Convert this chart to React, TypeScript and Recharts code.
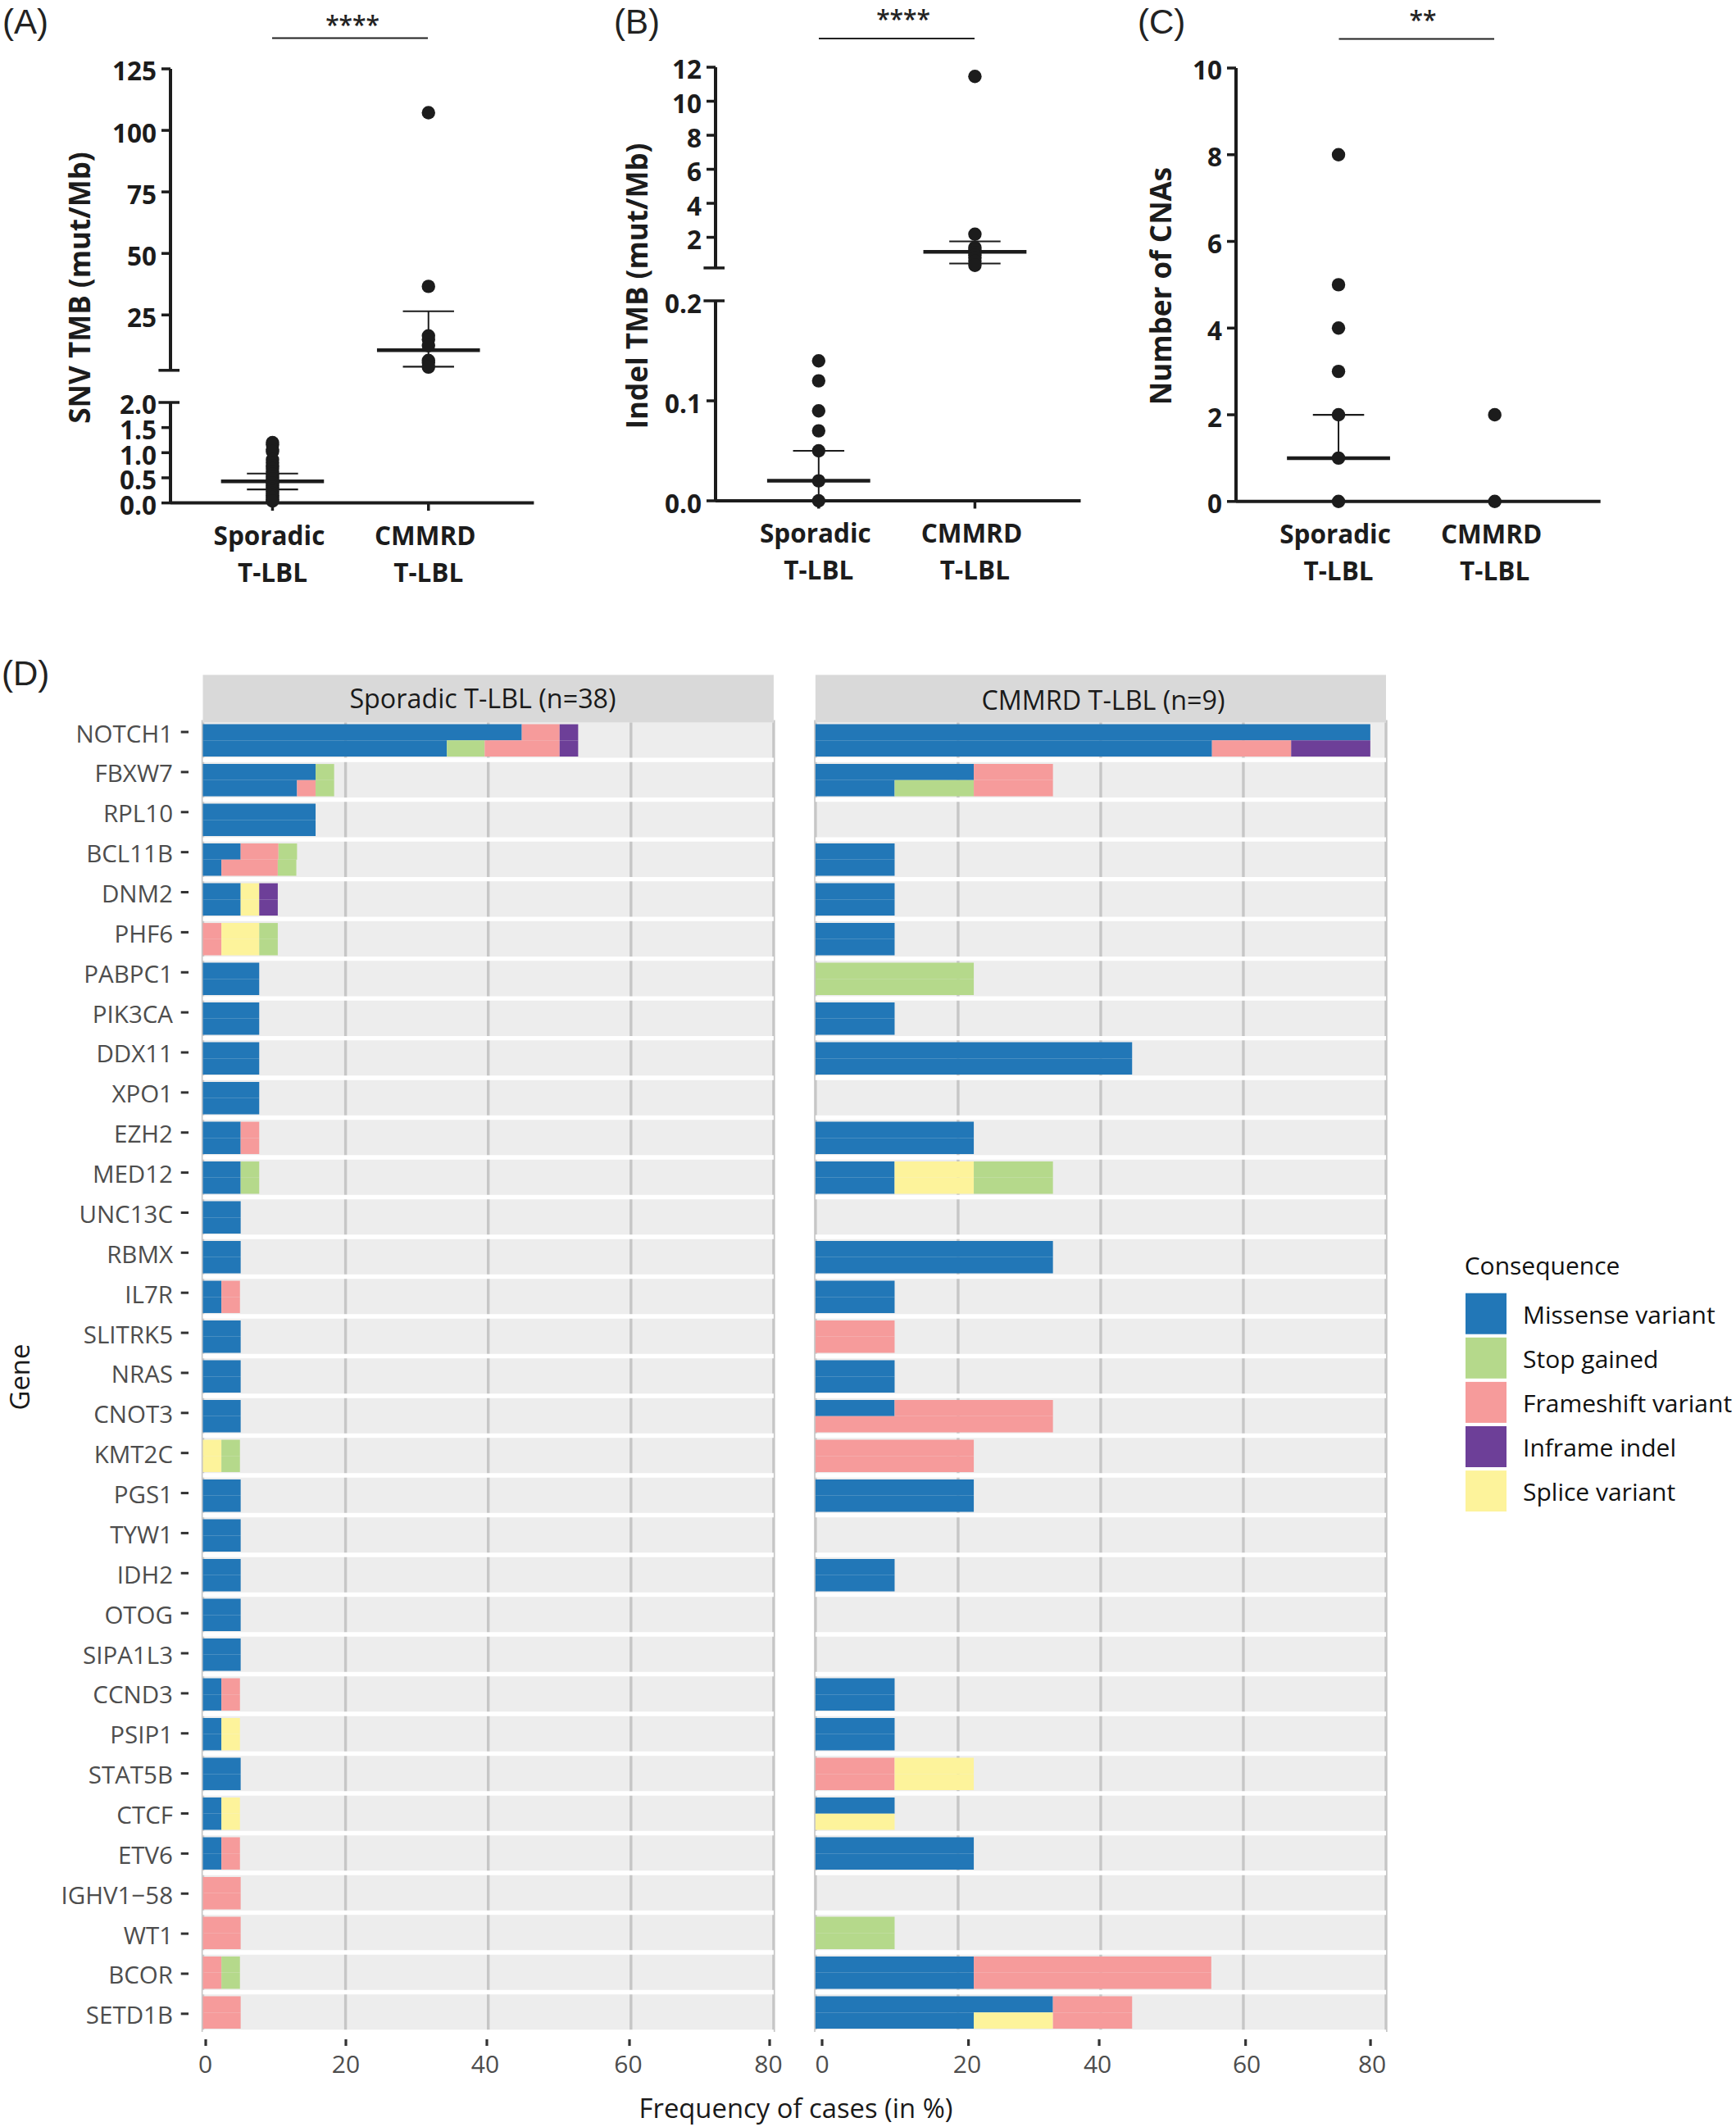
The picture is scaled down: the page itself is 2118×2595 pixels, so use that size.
import React from 'react'
import { Bar, BarChart, CartesianGrid, Cell, ReferenceLine, Scatter, ScatterChart, XAxis, YAxis } from 'recharts'

const FONT = '"Open Sans", sans-serif'
const DARK = '#1c1c1c'

// panels A-C, values
const groupLabels = [['Sporadic', 'T-LBL'], ['CMMRD', 'T-LBL']]

const snvSporadic = [1.2, 1.16, 1.06, 1.02, 0.86, 0.8, 0.74, 0.68, 0.62, 0.57, 0.52, 0.47, 0.43, 0.39, 0.35, 0.31, 0.27, 0.23, 0.19, 0.15, 0.11, 0.07, 0.04]
const snvCmmrd = [107.2, 36.6, 16.5, 15, 12.5, 6.5, 5.5, 3.8]
const snvSporadicIqr = [0.43, 0.27, 0.585]
const snvCmmrdIqr = [10.7, 4, 26.5]

const indelSporadic = [0.14, 0.12, 0.09, 0.07, 0.05, 0.02, 0]
const indelCmmrd = [11.46, 2.18, 1.4, 1.25, 1.1, 0.95, 0.8, 0.6, 0.35]
const indelSporadicIqr = [0.02, 0, 0.05]
const indelCmmrdIqr = [1.15, 0.46, 1.76]

const cnaSporadic = [8, 5, 4, 3, 2, 1, 0]
const cnaCmmrd = [2, 0]
const cnaSporadicIqr = [1, 1, 2]

// panel D
const genes = ['NOTCH1', 'FBXW7', 'RPL10', 'BCL11B', 'DNM2', 'PHF6', 'PABPC1', 'PIK3CA', 'DDX11', 'XPO1', 'EZH2', 'MED12', 'UNC13C', 'RBMX', 'IL7R', 'SLITRK5', 'NRAS', 'CNOT3', 'KMT2C', 'PGS1', 'TYW1', 'IDH2', 'OTOG', 'SIPA1L3', 'CCND3', 'PSIP1', 'STAT5B', 'CTCF', 'ETV6', 'IGHV1−58', 'WT1', 'BCOR', 'SETD1B']
const frequencyTicks = [0, 20, 40, 60, 80]

const consequences = ['Missense variant', 'Stop gained', 'Frameshift variant', 'Inframe indel', 'Splice variant']
const consequenceColors: any = { M: '#2277b7', S: '#b5d98b', F: '#f69b9b', I: '#6d3f98', P: '#fdf39b' }
const consequenceKeys = ['M', 'S', 'F', 'I', 'P']

type Seg = [string, number]

const sporadicUpper: Seg[][] = [
  [['M', 44.7], ['F', 5.3], ['I', 2.6]],
  [['M', 15.8], ['S', 2.6]],
  [['M', 15.8]],
  [['M', 5.3], ['F', 5.3], ['S', 2.6]],
  [['M', 5.3], ['P', 2.6], ['I', 2.6]],
  [['F', 2.6], ['P', 5.3], ['S', 2.6]],
  [['M', 7.9]],
  [['M', 7.9]],
  [['M', 7.9]],
  [['M', 7.9]],
  [['M', 5.3], ['F', 2.6]],
  [['M', 5.3], ['S', 2.6]],
  [['M', 5.3]],
  [['M', 5.3]],
  [['M', 2.6], ['F', 2.6]],
  [['M', 5.3]],
  [['M', 5.3]],
  [['M', 5.3]],
  [['P', 2.6], ['S', 2.6]],
  [['M', 5.3]],
  [['M', 5.3]],
  [['M', 5.3]],
  [['M', 5.3]],
  [['M', 5.3]],
  [['M', 2.6], ['F', 2.6]],
  [['M', 2.6], ['P', 2.6]],
  [['M', 5.3]],
  [['M', 2.6], ['P', 2.6]],
  [['M', 2.6], ['F', 2.6]],
  [['F', 5.3]],
  [['F', 5.3]],
  [['F', 2.6], ['S', 2.6]],
  [['F', 5.3]],
]
const sporadicLower: Record<string, Seg[]> = {
  NOTCH1: [['M', 34.2], ['S', 5.3], ['F', 10.5], ['I', 2.6]],
  FBXW7: [['M', 13.2], ['F', 2.6], ['S', 2.6]],
  BCL11B: [['M', 2.6], ['F', 7.9], ['S', 2.6]],
}

const cmmrdUpper: Seg[][] = [
  [['M', 77.8]],
  [['M', 22.2], ['F', 11.1]],
  [],
  [['M', 11.1]],
  [['M', 11.1]],
  [['M', 11.1]],
  [['S', 22.2]],
  [['M', 11.1]],
  [['M', 44.4]],
  [],
  [['M', 22.2]],
  [['M', 11.1], ['P', 11.1], ['S', 11.1]],
  [],
  [['M', 33.3]],
  [['M', 11.1]],
  [['F', 11.1]],
  [['M', 11.1]],
  [['M', 11.1], ['F', 22.2]],
  [['F', 22.2]],
  [['M', 22.2]],
  [],
  [['M', 11.1]],
  [],
  [],
  [['M', 11.1]],
  [['M', 11.1]],
  [['F', 11.1], ['P', 11.1]],
  [['M', 11.1]],
  [['M', 22.2]],
  [],
  [['S', 11.1]],
  [['M', 22.2], ['F', 33.3]],
  [['M', 33.3], ['F', 11.1]],
]
const cmmrdLower: Record<string, Seg[]> = {
  NOTCH1: [['M', 55.6], ['F', 11.1], ['I', 11.1]],
  FBXW7: [['M', 11.1], ['S', 11.1], ['F', 11.1]],
  CNOT3: [['F', 33.3]],
  CTCF: [['P', 11.1]],
  SETD1B: [['M', 22.2], ['P', 11.1], ['F', 11.1]],
}

const buildRows = (upper: Seg[][], lower: Record<string, Seg[]>) =>
  genes.map((gene, i) => {
    const row: any = { gene }
    const up = upper[i]
    const low = lower[gene] ?? up
    for (let s = 0; s < 4; s++) {
      row['u' + s] = up[s] ? up[s][1] : 0
      row['uk' + s] = up[s] ? up[s][0] : 'M'
      row['l' + s] = low[s] ? low[s][1] : 0
      row['lk' + s] = low[s] ? low[s][0] : 'M'
    }
    return row
  })

const Dot = (p: any) => <circle cx={p.cx} cy={p.cy} r={8.2} fill={DARK} />

const YW = 120

// one stretch of a dot plot y axis; a broken axis is two of these stacked
const DotChart = ({ axisX, axisEnd, yTop, yBottom, domain, ticks, cap, fmt, xDomain, showX, stub, series, summaries }: any) => {
  const bottom = showX ? 120 : 30
  const yTick = ({ y, payload }: any) => {
    const isCap = payload.value === cap
    return (
      <g>
        <line x1={isCap ? YW - 14.6 : YW - 11} x2={isCap ? YW + 11 : YW} y1={y} y2={y} stroke={DARK} strokeWidth={3.5} />
        {isCap && !fmt(payload.value) ? null : (
          <text x={YW - 17} y={y + 2} textAnchor="end" dominantBaseline="central" fontFamily={FONT} fontWeight={700} fontSize={31.5} fill={DARK}>{fmt(payload.value)}</text>
        )}
      </g>
    )
  }
  const xTick = ({ x, y, index }: any) => (
    <g fontFamily={FONT} fontWeight={700} fontSize={31.5} fill={DARK} textAnchor="middle">
      <text x={x - 4} y={y - stub + 38.5} dominantBaseline="central">{groupLabels[index][0]}</text>
      <text x={x} y={y - stub + 83.5} dominantBaseline="central">{groupLabels[index][1]}</text>
    </g>
  )
  return (
    <ScatterChart
      width={YW + axisEnd - axisX + 30}
      height={yBottom - yTop + 30 + bottom}
      margin={{ top: 30, right: 30, left: 0, bottom: showX ? 0 : 30 }}
      style={{ position: 'absolute', left: axisX - YW, top: yTop - 30 }}
    >
      <XAxis
        type="number"
        dataKey="x"
        domain={xDomain}
        ticks={[0, 1]}
        interval={0}
        hide={!showX}
        height={showX ? 120 : 0}
        tick={xTick}
        tickSize={stub}
        tickMargin={0}
        tickLine={{ stroke: DARK, strokeWidth: 3.5 }}
        axisLine={{ stroke: DARK, strokeWidth: 4 }}
      />
      <YAxis
        type="number"
        dataKey="y"
        domain={domain}
        ticks={ticks}
        interval={0}
        width={YW}
        tick={yTick}
        tickLine={false}
        axisLine={{ stroke: DARK, strokeWidth: 4 }}
      />
      {series.map((values: number[], g: number) => (
        <Scatter key={g} data={values.map((y) => ({ x: g, y }))} shape={Dot} isAnimationActive={false} />
      ))}
      {summaries.map(([g, med, lo, hi]: number[]) => (
        <React.Fragment key={g}>
          <ReferenceLine segment={[{ x: g - 0.33, y: med }, { x: g + 0.33, y: med }]} stroke={DARK} strokeWidth={4.5} />
          <ReferenceLine segment={[{ x: g, y: lo }, { x: g, y: hi }]} stroke={DARK} strokeWidth={2} />
          <ReferenceLine segment={[{ x: g - 0.164, y: hi }, { x: g + 0.164, y: hi }]} stroke={DARK} strokeWidth={2.2} />
          {lo !== med && <ReferenceLine segment={[{ x: g - 0.164, y: lo }, { x: g + 0.164, y: lo }]} stroke={DARK} strokeWidth={2.2} />}
        </React.Fragment>
      ))}
    </ScatterChart>
  )
}

const int = (v: number) => (v === 2.5 || v === 0.25 ? '' : String(v))
const fixed1 = (v: number) => v.toFixed(1)

const PLOT_TOP = 800
const FacetChart = ({ left, width, plotLeft, plotRight, rows, showGenes, markDx, labelDx }: any) => {
  const geneTick = ({ y, payload, index }: any) => {
    const gy = y - 9.8 + (11.9 * index) / 32
    return (
      <g>
        <line x1={plotLeft - 26.8} x2={plotLeft - 17.5} y1={gy} y2={gy} stroke="#333" strokeWidth={3} />
        <text x={plotLeft - 36.5} y={gy + 1} textAnchor="end" dominantBaseline="central" fontFamily={FONT} fontSize={29.5} fill="#4d4d4d">{payload.value}</text>
      </g>
    )
  }
  const freqTick = ({ x, y, payload, index }: any) => (
    <g>
      <line x1={x + markDx[index]} x2={x + markDx[index]} y1={y + 9} y2={y + 17} stroke="#333" strokeWidth={3.2} />
      <text x={x + markDx[index] + labelDx[index]} y={y + 38} textAnchor="middle" dominantBaseline="central" fontFamily={FONT} fontSize={30} fill="#4d4d4d">{payload.value}</text>
    </g>
  )
  return (
    <BarChart
      layout="vertical"
      width={width}
      height={1795}
      data={rows}
      barGap={0}
      margin={{ top: 78.6, bottom: 0, left: showGenes ? 0 : plotLeft, right: width - plotRight }}
      style={{ position: 'absolute', left, top: PLOT_TOP }}
    >
      <CartesianGrid horizontal={false} stroke="#c6c6c6" strokeWidth={3.4} fill="#ededed" fillOpacity={1} />
      <CartesianGrid
        vertical={false}
        stroke="#ffffff"
        strokeWidth={5.4}
        horizontalCoordinatesGenerator={({ offset }: any) => [...genes, ''].map((_, i) => offset.top + (i * offset.height) / genes.length)}
      />
      <XAxis type="number" domain={[0, 80]} ticks={frequencyTicks} interval={0} height={116} tick={freqTick} tickSize={0} tickMargin={0} tickLine={false} axisLine={false} />
      <YAxis type="category" dataKey="gene" interval={0} hide={!showGenes} width={showGenes ? plotLeft : 0} tick={geneTick} tickLine={false} axisLine={false} />
      {['u', 'l'].flatMap((side) =>
        [0, 1, 2, 3].map((s) => (
          <Bar key={side + s} dataKey={side + s} stackId={side} barSize={19.7} isAnimationActive={false}>
            {rows.map((r: any, i: number) => (
              <Cell key={i} fill={consequenceColors[r[side + 'k' + s]]} />
            ))}
          </Bar>
        ))
      )}
    </BarChart>
  )
}

const Overlay = () => (
  <svg width={2118} height={2595} style={{ position: 'absolute', left: 0, top: 0, pointerEvents: 'none' }}>
    <g fontFamily='"Liberation Sans", sans-serif' fontSize={42} fill="#222">
      <text x={3} y={41}>(A)</text>
      <text x={749} y={41}>(B)</text>
      <text x={1388} y={41}>(C)</text>
      <text x={2} y={836}>(D)</text>
    </g>
    <g stroke="#222" strokeWidth={2}>
      <line x1={332} x2={522} y1={46.5} y2={46.5} />
      <line x1={999} x2={1189} y1={47} y2={47} />
      <line x1={1633.5} x2={1823} y1={47.5} y2={47.5} />
    </g>
    <g fontFamily={FONT} fontWeight={600} fontSize={30} fill="#222" textAnchor="middle">
      <text x={430} y={41}>****</text>
      <text x={1102} y={34}>****</text>
      <text x={1736} y={35}>**</text>
    </g>
    <g fontFamily={FONT} fontWeight={700} fontSize={35} fill={DARK} textAnchor="middle" dominantBaseline="central">
      <text transform="translate(96,351) rotate(-90)">SNV TMB (mut/Mb)</text>
      <text transform="translate(776,349) rotate(-90)">Indel TMB (mut/Mb)</text>
      <text transform="translate(1415,349) rotate(-90)">Number of CNAs</text>
    </g>
    <rect x={247.5} y={823.4} width={696.4} height={58} fill="#d9d9d9" />
    <rect x={994.9} y={823.4} width={696.1} height={58} fill="#d9d9d9" />
    <g fontFamily={FONT} fontSize={32.3} fill="#1a1a1a" textAnchor="middle" dominantBaseline="central">
      <text x={589} y={851}>Sporadic T-LBL (n=38)</text>
      <text x={1346} y={853}>CMMRD T-LBL (n=9)</text>
    </g>
    <g fontFamily={FONT} fontSize={32.8} fill="#1a1a1a" textAnchor="middle" dominantBaseline="central">
      <text transform="translate(23,1680) rotate(-90)">Gene</text>
      <text x={971} y={2571}>Frequency of cases (in %)</text>
    </g>
    <g fontFamily={FONT} fontSize={30} fill="#111" dominantBaseline="central">
      <text x={1786.7} y={1543}>Consequence</text>
      {consequences.map((name, i) => (
        <g key={name}>
          <rect x={1788} y={1577.7 + i * 54.1} width={50} height={50} fill={consequenceColors[consequenceKeys[i]]} />
          <text x={1858} y={1603 + i * 54.1}>{name}</text>
        </g>
      ))}
    </g>
  </svg>
)

const App = () => {
  const xA = [-0.654, 1.676]
  return (
    <div style={{ position: 'absolute', left: 0, top: 0, width: 2118, height: 2595, background: '#fff', overflow: 'hidden' }}>
      {/* A */}
      <DotChart axisX={207.6} axisEnd={651} yTop={83.8} yBottom={451.6} domain={[2.5, 125]} ticks={[2.5, 25, 50, 75, 100, 125]} cap={2.5} fmt={int} xDomain={xA} stub={0}
        series={[[], snvCmmrd]} summaries={[[1, ...snvCmmrdIqr]]} />
      <DotChart axisX={207.6} axisEnd={651} yTop={491} yBottom={613.6} domain={[0, 2]} ticks={[0, 0.5, 1, 1.5, 2]} cap={2} fmt={fixed1} xDomain={xA} showX stub={9.5}
        series={[snvSporadic, []]} summaries={[[0, ...snvSporadicIqr]]} />
      {/* B */}
      <DotChart axisX={872.8} axisEnd={1318.3} yTop={82.4} yBottom={327.3} domain={[0.2, 12]} ticks={[0.2, 2, 4, 6, 8, 10, 12]} cap={0.2} fmt={(v: number) => (v === 0.2 ? '' : String(v))} xDomain={[-0.66, 1.677]} stub={0}
        series={[[], indelCmmrd]} summaries={[[1, ...indelCmmrdIqr]]} />
      <DotChart axisX={872.8} axisEnd={1318.3} yTop={367.3} yBottom={611.3} domain={[0, 0.2]} ticks={[0, 0.1, 0.2]} cap={0.2} fmt={fixed1} xDomain={[-0.66, 1.677]} showX stub={9.5}
        series={[indelSporadic, []]} summaries={[[0, ...indelSporadicIqr]]} />
      {/* C */}
      <DotChart axisX={1508} axisEnd={1952.7} yTop={82.9} yBottom={611.7} domain={[0, 10]} ticks={[0, 2, 4, 6, 8, 10]} fmt={String} xDomain={[-0.656, 1.677]} showX stub={7}
        series={[cnaSporadic, cnaCmmrd]} summaries={[[0, ...cnaSporadicIqr]]} />
      {/* D */}
      <FacetChart left={0} width={960} plotLeft={247.5} plotRight={943.9} rows={buildRows(sporadicUpper, sporadicLower)} showGenes
        markDx={[3.5, 0.4, -1.7, -1.8, -4.9]} labelDx={[-0.5, 0, -2, -1.5, -1.5]} />
      <FacetChart left={960} width={760} plotLeft={34.9} plotRight={731} rows={buildRows(cmmrdUpper, cmmrdLower)}
        markDx={[8.1, 12.7, -1.9, 2.7, -18.9]} labelDx={[0, -1.6, -2, 1.4, 2]} />
      <Overlay />
    </div>
  )
}

export default App
